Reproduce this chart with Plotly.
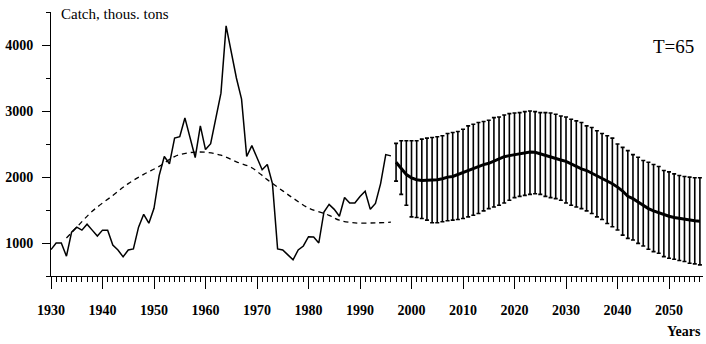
import plotly.graph_objects as go

# Historical catch (thous. tons), 1930-1996
hist_years = list(range(1930, 1997))
hist_catch = [900, 1000, 1000, 800, 1165, 1240, 1195, 1285, 1195, 1105,
              1195, 1195, 970, 895, 790, 895, 910, 1240, 1435, 1300,
              1525, 2020, 2310, 2200, 2590, 2610, 2895, 2595, 2295, 2775,
              2415, 2505, 2895, 3270, 4290, 3900, 3500, 3180, 2310, 2475,
              2295, 2110, 2190, 1900, 910, 895, 820, 745, 895, 955,
              1095, 1090, 1000, 1470, 1585, 1510, 1405, 1690, 1605, 1605,
              1705, 1785, 1510, 1600, 1900, 2340, 2320]

# Smoothed trend (dashed)
trend_years = [1933, 1935, 1938, 1942, 1945, 1948, 1951, 1954, 1957, 1960, 1963,
               1966, 1969, 1972, 1975, 1977, 1980, 1984, 1986, 1989, 1993, 1996]
trend_vals = [1075, 1240, 1480, 1720, 1900, 2040, 2160, 2310, 2370, 2375, 2330,
              2230, 2140, 1960, 1790, 1680, 1530, 1420, 1345, 1305, 1305, 1315]

# Forecast 1997-2056: mean, upper and lower bounds
fc_years = list(range(1997, 2057))
fc_mean = [2224, 2123, 2038, 1988, 1958, 1948, 1948, 1948, 1958, 1973,
           1998, 2008, 2038, 2073, 2108, 2138, 2158, 2188, 2208, 2238,
           2274, 2308, 2324, 2339, 2349, 2369, 2379, 2374, 2349, 2324,
           2308, 2283, 2258, 2238, 2198, 2158, 2123, 2098, 2058, 2023,
           1988, 1948, 1898, 1847, 1787, 1707, 1672, 1622, 1572, 1521,
           1486, 1456, 1436, 1406, 1386, 1371, 1356, 1346, 1336, 1331]
fc_upper = [2509, 2549, 2549, 2549, 2549, 2574, 2589, 2599, 2609, 2624,
            2659, 2674, 2689, 2724, 2775, 2800, 2825, 2840, 2860, 2900,
            2910, 2940, 2960, 2970, 2975, 2990, 3000, 2990, 2975, 2975,
            2970, 2950, 2925, 2910, 2875, 2850, 2825, 2775, 2750, 2700,
            2659, 2624, 2589, 2499, 2449, 2399, 2339, 2299, 2249, 2224,
            2189, 2158, 2098, 2078, 2048, 2023, 2008, 1998, 1988, 1988]
fc_lower = [1938, 1737, 1572, 1396, 1386, 1371, 1346, 1306, 1306, 1321,
            1336, 1346, 1356, 1371, 1396, 1421, 1446, 1486, 1521, 1546,
            1572, 1606, 1647, 1687, 1707, 1722, 1737, 1747, 1737, 1707,
            1687, 1672, 1647, 1606, 1572, 1546, 1521, 1486, 1446, 1396,
            1356, 1296, 1246, 1196, 1120, 1070, 1045, 995, 955, 905,
            870, 845, 794, 770, 754, 734, 719, 694, 684, 669]

err_plus = [u - m for u, m in zip(fc_upper, fc_mean)]
err_minus = [m - l for m, l in zip(fc_mean, fc_lower)]

FONT = "Liberation Serif"

fig = go.Figure()
fig.add_trace(go.Scatter(x=hist_years, y=hist_catch, mode="lines",
                         line=dict(color="black", width=1.5), hoverinfo="skip"))
fig.add_trace(go.Scatter(x=trend_years, y=trend_vals, mode="lines",
                         line=dict(color="black", width=1.3, dash="5px,4px", shape="spline"),
                         hoverinfo="skip"))
fig.add_trace(go.Scatter(x=fc_years, y=fc_mean, mode="lines",
                         line=dict(color="black", width=3),
                         error_y=dict(type="data", symmetric=False, array=err_plus,
                                      arrayminus=err_minus, color="black",
                                      thickness=1.6, width=2),
                         hoverinfo="skip"))

fig.update_layout(
    width=706, height=344,
    margin=dict(l=51, r=3, t=12, b=68),
    paper_bgcolor="white", plot_bgcolor="white",
    showlegend=False,
    xaxis=dict(range=[1930, 2056.6], showgrid=False, zeroline=False,
               showline=True, linecolor="black", linewidth=1,
               tickmode="linear", tick0=1930, dtick=10,
               ticks="outside", ticklen=12, tickwidth=1, tickcolor="black",
               minor=dict(dtick=1, tick0=1930, ticks="outside", ticklen=5,
                          tickwidth=1, tickcolor="black"),
               ticklabelstandoff=9,
               tickfont=dict(family=FONT, size=14, color="black", weight="bold")),
    yaxis=dict(range=[500, 4500], showgrid=False, zeroline=False,
               showline=True, linecolor="black", linewidth=1,
               tickmode="linear", tick0=1000, dtick=1000,
               ticks="outside", ticklen=8, tickwidth=1, tickcolor="black",
               minor=dict(dtick=500, tick0=500, ticks="outside", ticklen=4,
                          tickwidth=1, tickcolor="black"),
               ticklabelstandoff=6,
               tickfont=dict(family=FONT, size=14, color="black", weight="bold")),
    annotations=[
        dict(text="Catch, thous. tons", xref="paper", yref="paper",
             x=0.013, y=0.992, xanchor="left", yanchor="middle", showarrow=False,
             font=dict(family=FONT, size=15, color="black")),
        dict(text="T=65", xref="paper", yref="paper",
             x=0.955, y=0.87, xanchor="center", yanchor="middle", showarrow=False,
             font=dict(family=FONT, size=19, color="black")),
        dict(text="Years", x=1.0, y=-0.21, xref="paper", yref="paper",
             xanchor="right", yanchor="middle", showarrow=False,
             font=dict(family=FONT, size=14, color="black", weight="bold")),
    ],
)

fig.write_html("out.html")
